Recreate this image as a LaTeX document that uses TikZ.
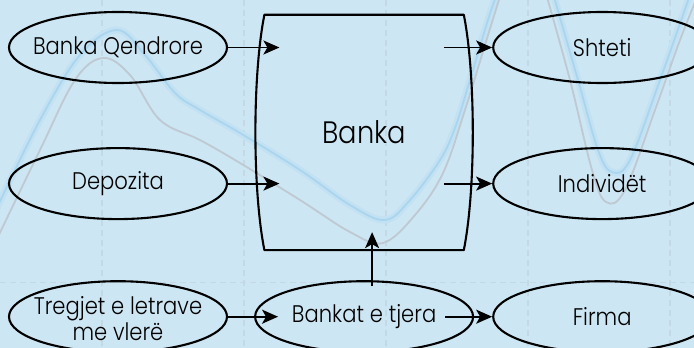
\documentclass[tikz,border=0pt]{standalone}
\usepackage{fontspec}
\setmainfont{Poppins}[UprightFont=* Light, FakeStretch=0.88]
\usetikzlibrary{shapes.geometric,arrows.meta,positioning}

\definecolor{bgblue}{RGB}{205,230,243}
\definecolor{curvegrey}{RGB}{190,201,209}
\definecolor{curveblue}{RGB}{170,213,238}
\definecolor{glowblue}{RGB}{194,225,243}
\definecolor{gridline}{RGB}{196,217,230}

\begin{document}
\begin{tikzpicture}[x=1pt, y=1pt, node distance=63pt and 26pt,
    flow/.style={draw, ellipse, line width=2.1pt, minimum width=218pt, minimum height=71pt,
        inner xsep=-30pt, inner ysep=-10pt, align=center, font=\fontsize{24}{26}\selectfont},
    link/.style={-{Stealth[length=16pt, width=14pt, inset=4pt]}, line width=1.8pt}]
        % Background
        \fill[bgblue] (0,0) rectangle (694,-348);
        \useasboundingbox (0,0) rectangle (694,-348);
        \foreach \gx in {102,244,386,528,670}
            \draw[gridline, line width=1.2pt, dash pattern=on 6pt off 4pt] (\gx,0) -- (\gx,-348);
        \draw[gridline, line width=1pt, dash pattern=on 6pt off 4pt] (0,-282) -- (694,-282);
        \draw[glowblue, line width=7pt, line cap=round] plot[smooth, tension=0.6] coordinates {
            (-5,-212) (40,-120) (80,-55) (117,-30) (145,-55) (175,-93) (200,-110) (240,-133)
            (300,-170) (350,-205) (385,-220) (410,-200) (440,-160) (455,-128) (470,-80) (488,-20) (500,15)};
        \draw[curveblue, line width=1.8pt] plot[smooth, tension=0.6] coordinates {
            (-5,-212) (40,-120) (80,-55) (117,-30) (145,-55) (175,-93) (200,-110) (240,-133)
            (300,-170) (350,-205) (385,-220) (410,-200) (440,-160) (455,-128) (470,-80) (488,-20) (500,15)};
        \draw[curvegrey, line width=1.8pt] plot[smooth, tension=0.6] coordinates {
            (-5,-243) (40,-150) (75,-80) (103,-58) (130,-75) (160,-120) (200,-140) (240,-163)
            (300,-200) (350,-232) (383,-243) (415,-215) (443,-173) (465,-110) (485,-45) (502,10)};
        \draw[glowblue, line width=7pt] plot[smooth, tension=0.6] coordinates {
            (552,10) (578,-80) (598,-150) (612,-172) (630,-160) (660,-80) (690,5)};
        \draw[curveblue, line width=1.8pt] plot[smooth, tension=0.6] coordinates {
            (552,10) (578,-80) (598,-150) (612,-172) (630,-160) (660,-80) (690,5)};
        \draw[curvegrey, line width=1.8pt] plot[smooth, tension=0.6] coordinates {
            (545,10) (570,-80) (592,-170) (606,-202) (625,-190) (655,-110) (680,-40) (700,10)};

        % Nodes
        \node (bq) [flow] at (118,-47.5) {Banka Qendrore};
        \node (dep) [flow, below=of bq] {Depozita};
        \node (treg) [flow, below=60pt of dep] {\rule{0pt}{22pt}Tregjet e letrave\\me vlerë};
        \node (bankat) [flow, right=of treg] {Bankat e tjera};
        \node (firma) [flow, right=18pt of bankat] {Firma};
        \node (indiv) [flow, above=60pt of firma] {Individët};
        \node (shteti) [flow, above=of indiv] {Shteti};
        \node (banka) [above=30pt of bankat, minimum width=199pt, minimum height=235pt,
            inner sep=0pt, font=\fontsize{31}{33}\selectfont] {Banka};

        % Bank outline with bulging sides
        \draw[line width=2.1pt, line join=round] (banka.north west) -- (banka.north east)
            .. controls +(12,-60) and +(12,60) .. (banka.south east) -- (banka.south west)
            .. controls +(-12,60) and +(-12,-60) .. cycle;

        % Flows into the bank
        \draw[link] (bq.east) -- ([xshift=15pt]banka.west |- bq.east);
        \draw[link] (dep.east) -- ([xshift=15pt]banka.west |- dep.east);
        \draw[link] ([xshift=8pt, yshift=-6pt]bankat.north) -- ([xshift=8pt, yshift=18pt]banka.south);

        % Flows out of the bank
        \draw[link] ([xshift=-20pt]banka.east |- shteti.west) -- (shteti.west);
        \draw[link] ([xshift=-20pt]banka.east |- indiv.west) -- (indiv.west);

        % Bottom row
        \draw[link] (treg.east) -- ([xshift=24pt]bankat.west);
        \draw[link] ([xshift=-29pt]bankat.east) -- (firma.west);
    \end{tikzpicture}
\end{document}
